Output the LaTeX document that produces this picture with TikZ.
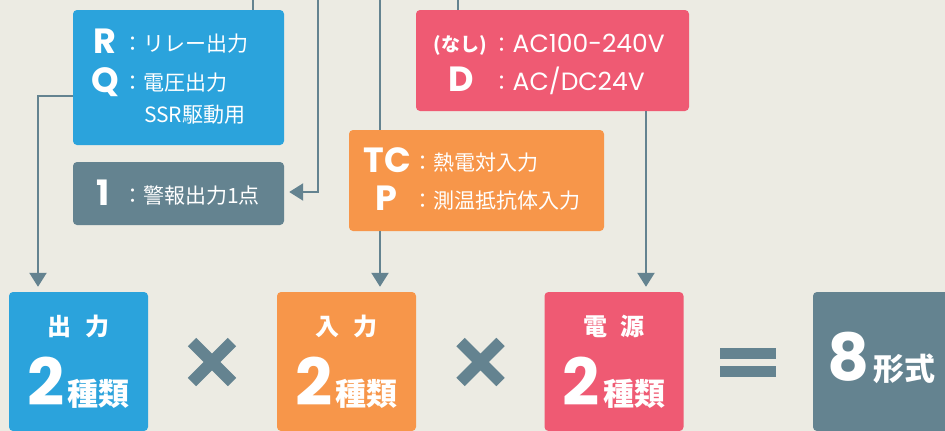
\documentclass[tikz,border=0pt]{standalone}
\usepackage{fontspec}
\setmainfont{Poppins}
\newfontfamily\jp{Noto Sans CJK JP}
\usetikzlibrary{arrows.meta}

\definecolor{bgcol}{HTML}{ECEBE3}
\definecolor{outblue}{HTML}{2BA3DC}
\definecolor{inorange}{HTML}{F7964A}
\definecolor{pwrred}{HTML}{EF5A73}
\definecolor{slate}{HTML}{648390}

\tikzset{
	box/.style={rounded corners=4pt, inner sep=0pt},
	key/.style={text=white, inner sep=0pt, anchor=base, font=\bfseries\fontsize{35}{35}\selectfont},
	val/.style={text=white, inner sep=0pt, anchor=base west, font=\jp\fontsize{21}{21}\selectfont},
	head/.style={text=white, inner sep=0pt, font=\jp\bfseries\fontsize{24}{24}\selectfont},
	count/.style={text=white, inner sep=0pt, anchor=base},
	link/.style={slate, line width=2.2pt},
	tip/.style={-{Triangle[width=17pt,length=14pt]}, shorten >=5pt},
}
\def\big#1{{\bfseries\fontsize{65}{65}\selectfont #1}}
\def\kind#1{{\jp\bfseries\fontsize{31}{31}\selectfont #1}}

\begin{document}
\begin{tikzpicture}[x=1pt, y=-1pt]
			%%%%% START %%%%%
			
			\useasboundingbox (0, 0) rectangle (945, 431);
			\clip (0, 0) rectangle (945, 431);
			\fill[bgcol] (0, 0) rectangle (945, 431);
			
			% option boxes
			\node[box, fill=outblue, minimum width=211pt, minimum height=135pt] (outbox) at (178.5, 77.5) {};
			\node[box, fill=slate, minimum width=211pt, minimum height=63pt] (alarm) at (178.5, 193.5) {};
			\node[box, fill=pwrred, minimum width=273pt, minimum height=101pt] (pwrbox) at (552.5, 60.5) {};
			\node[box, fill=inorange, minimum width=255pt, minimum height=101pt] (inbox) at (476.5, 180.5) {};
			
			\node[key] (keyR) at (105, 53) {R};
			\node[val] (valR) at (122, 51) {：リレー出力};
			\node[key] (keyQ) at (105, 92) {Q};
			\node[val] (valQ) at (122, 90) {：電圧出力};
			\node[val] (valSSR) at (144, 122) {SSR駆動用};
			
			\node[key] (key1) at (103.5, 205) {1};
			\node[val] (val1) at (122, 203) {：警報出力1点};
			
			\node[key, font=\jp\bfseries\fontsize{19}{19}\selectfont] (keyAC) at (460, 51) {(なし)};
			\node[val] (valAC) at (491.5, 52) {：{\rmfamily\fontsize{25}{25}\selectfont AC100-240V}};
			\node[key] (keyD) at (461.5, 91) {D};
			\node[val] (valD) at (491.5, 90) {：{\rmfamily\fontsize{25}{25}\selectfont AC/DC24V}};
			
			\node[key] (keyTC) at (387.5, 172) {TC};
			\node[val] (valTC) at (412.5, 170) {：熱電対入力};
			\node[key] (keyP) at (386.5, 210) {P};
			\node[val] (valP) at (412.5, 208) {：測温抵抗体入力};
			
			% result boxes
			\node[box, fill=outblue, minimum size=139pt] (outsum) at (78.5, 361.5) {};
			\node[box, fill=inorange, minimum size=139pt] (insum) at (346.5, 361.5) {};
			\node[box, fill=pwrred, minimum size=139pt] (pwrsum) at (614, 361.5) {};
			\node[box, fill=slate, minimum size=139pt] (total) at (882.5, 361.5) {};
			
			\node[head] (outhead) at (78.5, 326) {出\hspace{0.55em}力};
			\node[count] (outcount) at (78.5, 405) {\big{2}\hspace{3pt}\kind{種類}};
			\node[head] (inhead) at (346.5, 326) {入\hspace{0.55em}力};
			\node[count] (incount) at (346.5, 405) {\big{2}\hspace{3pt}\kind{種類}};
			\node[head] (pwrhead) at (614, 326) {電\hspace{0.55em}源};
			\node[count] (pwrcount) at (614, 405) {\big{2}\hspace{3pt}\kind{種類}};
			\node[count] (totalcount) at (881.5, 380) {\big{8}\hspace{4pt}\kind{形式}};
			
			\draw[slate, line width=12pt] (192, 342) -- (232, 382) (192, 382) -- (232, 342);
			\draw[slate, line width=12pt] (460.5, 342) -- (500.5, 382) (460.5, 382) -- (500.5, 342);
			\fill[slate] (720, 348) rectangle (776, 359);
			\fill[slate] (720, 366) rectangle (776, 377);
			
			% connectors
			\coordinate (outtop) at (253, -5);
			\coordinate (alarmtop) at (318, -5);
			\coordinate (alarmbend) at (318, 192);
			\coordinate (intop) at (380, -5);
			\coordinate (pwrtop) at (458, -5);
			\coordinate (outbend) at (38, 96);
			\coordinate (pwrdown) at (646, 0);
			
			\draw[link] (outtop) -- (outtop |- outbox.north);
			\draw[link, tip] (alarmtop) -- (alarmbend) -- (alarmbend -| alarm.east);
			\draw[link] (intop) -- (intop |- inbox.north);
			\draw[link, tip] (intop |- inbox.south) -- (intop |- insum.north);
			\draw[link] (pwrtop) -- (pwrtop |- pwrbox.north);
			\draw[link, tip] (pwrdown |- pwrbox.south) -- (pwrdown |- pwrsum.north);
			\draw[link, tip] (outbox.west |- outbend) -- (outbend) -- (outbend |- outsum.north);
			
			%%%%% END %%%%%
\end{tikzpicture}
\end{document}
